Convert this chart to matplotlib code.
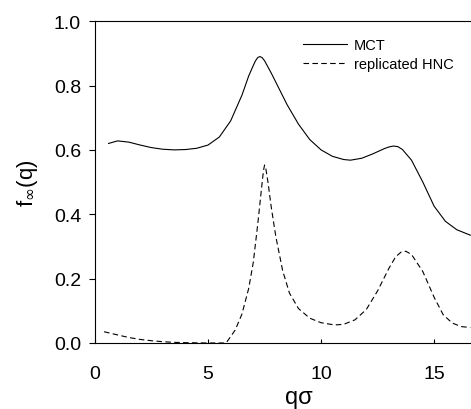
import numpy as np
import matplotlib.pyplot as plt

plt.rcParams['font.family'] = ['Liberation Sans', 'DejaVu Sans']

# MCT nonergodicity parameter
q_mct = [0.6, 1.0, 1.5, 2.0, 2.5, 3.0, 3.5, 4.0, 4.5, 5.0, 5.5, 6.0, 6.5, 6.8,
         7.0, 7.1, 7.2, 7.3, 7.4, 7.5, 7.6, 7.8, 8.0, 8.5, 9.0, 9.5, 10.0,
         10.5, 11.0, 11.3, 11.8, 12.3, 12.8, 13.0, 13.2, 13.4, 13.6, 14.0,
         14.5, 15.0, 15.5, 16.0, 16.6]
f_mct = [0.620, 0.628, 0.624, 0.615, 0.607, 0.602, 0.600, 0.601, 0.605, 0.615,
         0.640, 0.690, 0.770, 0.830, 0.862, 0.877, 0.887, 0.890, 0.886, 0.877,
         0.864, 0.838, 0.810, 0.740, 0.680, 0.632, 0.600, 0.580, 0.570, 0.568,
         0.574, 0.588, 0.604, 0.609, 0.612, 0.610, 0.601, 0.568, 0.500, 0.425,
         0.378, 0.352, 0.335]

# replicated HNC
q_hnc = [0.4, 1.0, 1.5, 2.0, 2.5, 3.0, 3.5, 4.0, 5.0, 5.8, 6.2, 6.5, 6.8, 7.0,
         7.2, 7.35, 7.45, 7.5, 7.55, 7.65, 7.8, 8.0, 8.3, 8.6, 9.0, 9.5, 10.0,
         10.6, 11.0, 11.5, 12.0, 12.5, 13.0, 13.3, 13.55, 13.75, 14.0, 14.5,
         15.0, 15.4, 15.8, 16.2, 16.6]
f_hnc = [0.035, 0.025, 0.017, 0.011, 0.007, 0.004, 0.002, 0.001, 0.0, 0.0,
         0.04, 0.09, 0.17, 0.25, 0.37, 0.47, 0.535, 0.553, 0.545, 0.50, 0.42,
         0.33, 0.225, 0.155, 0.107, 0.077, 0.063, 0.056, 0.058, 0.072, 0.104,
         0.162, 0.232, 0.268, 0.283, 0.285, 0.275, 0.222, 0.142, 0.088, 0.062,
         0.051, 0.048]

fig = plt.figure(figsize=(4.71, 4.10), dpi=100)
# axes run past the right edge of the figure (original is cropped)
ax = fig.add_axes([0.2017, 0.161, 0.864, 0.785])

ax.plot(q_mct, f_mct, color='black', lw=0.8, label='MCT')
ax.plot(q_hnc, f_hnc, color='black', lw=0.8, ls=(0, (5, 3)), label='replicated HNC')

ax.set_xlim(0, 18)
ax.set_ylim(0, 1.0)
ax.set_xticks([0, 5, 10, 15])
ax.set_yticks([0.0, 0.2, 0.4, 0.6, 0.8, 1.0])
ax.set_yticklabels(['0.0', '0.2', '0.4', '0.6', '0.8', '1.0'])
ax.tick_params(axis='y', direction='out', length=4, labelsize=14, width=0.8, pad=6)
ax.tick_params(axis='x', direction='in', length=3, labelsize=14, width=0.8, pad=16)
for s in ['left', 'bottom', 'top', 'right']:
    ax.spines[s].set_linewidth(0.8)

ax.set_xlabel('qσ', fontsize=17, labelpad=3)
ax.set_ylabel(r'f$_\infty$(q)', fontsize=16, labelpad=10)

ax.legend(loc='upper left', frameon=False, fontsize=10.5, handlelength=3.0,
          handletextpad=0.5, bbox_to_anchor=(0.497, 0.965), labelspacing=0.35,
          borderaxespad=0)

fig.savefig('out.png', dpi=100)
